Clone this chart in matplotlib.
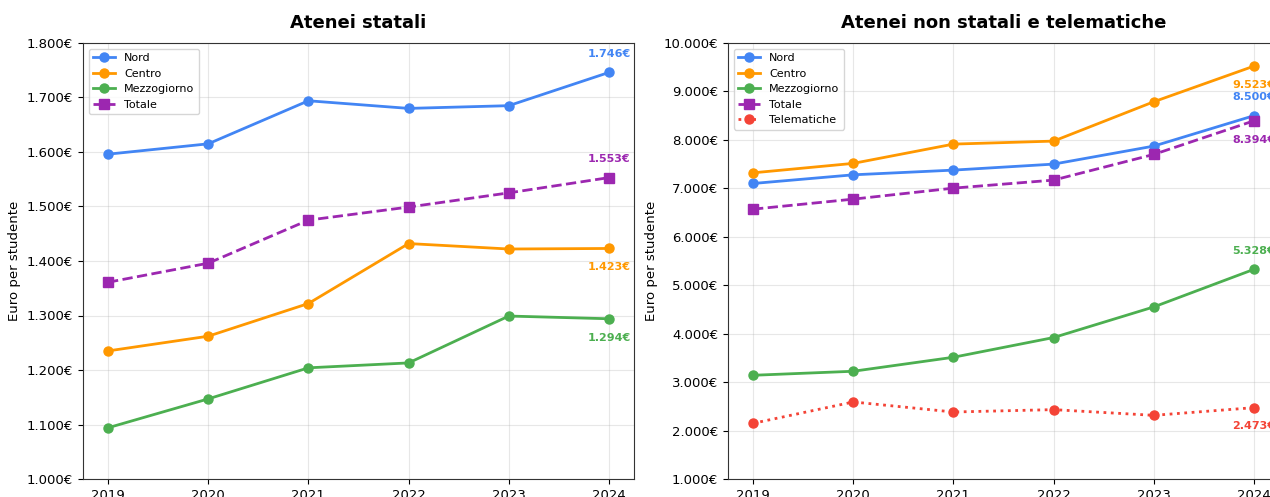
import matplotlib
matplotlib.use('Agg')
from matplotlib import pyplot as plt
from matplotlib import ticker as tk

years = [2019, 2020, 2021, 2022, 2023, 2024]

# Atenei statali
stat_nord = [1596, 1615, 1694, 1680, 1685, 1746]
stat_centro = [1235, 1262, 1322, 1432, 1422, 1423]
stat_mezzo = [1094, 1147, 1204, 1213, 1299, 1294]
stat_totale = [1361, 1396, 1475, 1499, 1525, 1553]

# Atenei non statali e telematiche
ns_nord = [7100, 7279, 7376, 7500, 7872, 8500]
ns_centro = [7320, 7515, 7913, 7975, 8787, 9523]
ns_mezzo = [3141, 3224, 3513, 3920, 4552, 5328]
ns_totale = [6570, 6777, 7004, 7170, 7700, 8394]
ns_telem = [2149, 2590, 2383, 2432, 2314, 2473]

BLUE = '#4285F4'
ORANGE = '#FF9800'
GREEN = '#4CAF50'
PURPLE = '#9C27B0'
RED = '#F44336'


def euro(v, pos=None):
    return f'{v:,.0f}€'.replace(',', '.')


def label_last(ax, vals, color, above):
    off = 13.5 if above else -13.5
    ax.annotate(euro(vals[-1]), (years[-1], vals[-1]), xytext=(0, off),
                textcoords='offset points', ha='center', va='center',
                fontsize=8, fontweight='bold', color=color)


def style(ax, title, ylim, step):
    ax.set_title(title, fontsize=13, fontweight='bold', pad=11)
    ax.set_ylabel('Euro per studente', fontsize=9.5)
    ax.set_ylim(*ylim)
    ax.yaxis.set_major_locator(tk.MultipleLocator(step))
    ax.yaxis.set_major_formatter(tk.FuncFormatter(euro))
    ax.set_xticks(years)
    ax.tick_params(labelsize=9.5)
    ax.grid(True, alpha=0.3)
    for s in ax.spines.values():
        s.set_color('#333333')
    ax.legend(loc='upper left', fontsize=8)


fig = plt.figure(figsize=(12.7, 4.97), dpi=100)
ax1 = fig.add_axes([83 / 1270, 18 / 497, 551 / 1270, 436 / 497])
ax2 = fig.add_axes([728 / 1270, 18 / 497, 551 / 1270, 436 / 497])

kw = dict(linewidth=2, markersize=6.5)
ax1.plot(years, stat_nord, color=BLUE, marker='o', label='Nord', **kw)
ax1.plot(years, stat_centro, color=ORANGE, marker='o', label='Centro', **kw)
ax1.plot(years, stat_mezzo, color=GREEN, marker='o', label='Mezzogiorno', **kw)
ax1.plot(years, stat_totale, color=PURPLE, marker='s', linestyle='--',
         label='Totale', **kw)
label_last(ax1, stat_nord, BLUE, True)
label_last(ax1, stat_totale, PURPLE, True)
label_last(ax1, stat_centro, ORANGE, False)
label_last(ax1, stat_mezzo, GREEN, False)
style(ax1, 'Atenei statali', (1000, 1800), 100)

ax2.plot(years, ns_nord, color=BLUE, marker='o', label='Nord', **kw)
ax2.plot(years, ns_centro, color=ORANGE, marker='o', label='Centro', **kw)
ax2.plot(years, ns_mezzo, color=GREEN, marker='o', label='Mezzogiorno', **kw)
ax2.plot(years, ns_totale, color=PURPLE, marker='s', linestyle='--',
         label='Totale', **kw)
ax2.plot(years, ns_telem, color=RED, marker='o', linestyle=':',
         label='Telematiche', **kw)
label_last(ax2, ns_centro, ORANGE, False)
label_last(ax2, ns_nord, BLUE, True)
label_last(ax2, ns_totale, PURPLE, False)
label_last(ax2, ns_mezzo, GREEN, True)
label_last(ax2, ns_telem, RED, False)
style(ax2, 'Atenei non statali e telematiche', (1000, 10000), 1000)

fig.savefig('out.png', dpi=100)
